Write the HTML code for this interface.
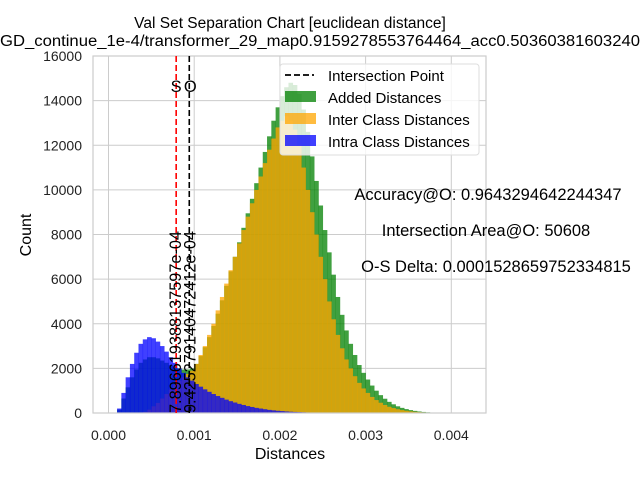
<!DOCTYPE html>
<html><head><meta charset="utf-8"><style>body{margin:0;background:#fff}svg{display:block}text{font-family:"Liberation Sans","DejaVu Sans",sans-serif}</style></head>
<body>
<svg id="chart" width="640" height="480" xmlns="http://www.w3.org/2000/svg"></svg>
<script>
const binStart = 0.0001;
const binWidth = 0.00005;
const interVals = [0,0,0,0,0,0,50,150,300,450,650,850,1050,1250,1450,1600,1750,1900,2200,2600,3000,3500,4000,4600,5200,5800,6400,7000,7600,8200,8800,9400,10000,10600,11200,11800,12300,12800,13100,13300,13100,12700,12000,11000,10000,9000,8000,7000,6000,5000,4200,3500,2900,2400,2000,1650,1350,1100,900,720,580,460,360,280,220,170,130,100,75,55,40,28,18,10,5,0];
const intraVals = [200,900,1600,2200,2700,3100,3300,3400,3350,3200,3000,2750,2500,2250,2000,1800,1600,1450,1300,1180,1060,950,850,760,680,600,530,470,410,360,310,270,230,200,170,140,120,100,85,70,58,48,40,32,25,20,15,10,6,0];
const addedVals = [150,650,1150,1600,1950,2250,2400,2500,2500,2450,2350,2250,2150,2050,2000,1950,1950,2000,2200,2550,2950,3400,3900,4450,5050,5700,6350,7000,7650,8300,8950,9600,10300,11000,11700,12400,13100,13700,14200,14600,14800,14700,14300,13600,12600,11500,10400,9300,8200,7200,6200,5200,4400,3700,3100,2600,2150,1800,1500,1230,1000,800,640,500,390,300,230,175,130,95,68,48,32,20,10,4,0];
const xTicks = [0, 0.001, 0.002, 0.003, 0.004];
const xTickLabels = ["0.000","0.001","0.002","0.003","0.004"];
const yTicks = [0,2000,4000,6000,8000,10000,12000,14000,16000];
const sPoint = 7.896619388137597e-04;
const oPoint = 9.425279140472412e-04;

const NS = "http://www.w3.org/2000/svg";
const svg = document.getElementById('chart');
const L = 93, R = 486, T = 56, B = 413;
const X = v => 108.5 + v * 85700;
const Y = v => B - (v / 16000) * (B - T);
function el(tag, attrs, parent) {
  const e = document.createElementNS(NS, tag);
  for (const k in attrs) e.setAttribute(k, attrs[k]);
  (parent || svg).appendChild(e);
  return e;
}
function txt(s, attrs, parent) { const t = el('text', attrs, parent); t.textContent = s; return t; }

const grid = el('g', {});


xTicks.forEach(v => el('line', {x1:X(v), x2:X(v), y1:T, y2:B, stroke:'#cccccc', 'stroke-width':1}, grid));
yTicks.forEach(v => el('line', {x1:L, x2:R, y1:Y(v), y2:Y(v), stroke:'#cccccc', 'stroke-width':1}, grid));

function drawHist(vals, color, name) {
  const g = el('g', {fill: color, 'fill-opacity': 0.75});
  
  
  vals.forEach((v, i) => {
    if (v <= 0) return;
    const x0 = X(binStart + i * binWidth), x1 = X(binStart + (i + 1) * binWidth);
    const r = el('rect', {x: x0, y: Y(v), width: x1 - x0 + 0.3, height: B - Y(v)}, g);
    
    
  });
}
drawHist(addedVals, '#008000', 'added-distances-hist');
drawHist(interVals, '#ffa500', 'inter-class-hist');
drawHist(intraVals, '#0000ff', 'intra-class-hist');

const frame = el('rect', {x:L, y:T, width:R-L, height:B-T, fill:'none', stroke:'#cccccc', 'stroke-width':1.2});



const sl = el('line', {x1:X(sPoint), x2:X(sPoint), y1:T, y2:B, stroke:'#ff0000', 'stroke-width':1.6, 'stroke-dasharray':'6,3'});


const ol = el('line', {x1:X(oPoint), x2:X(oPoint), y1:T, y2:B, stroke:'#000', 'stroke-width':1.6, 'stroke-dasharray':'6,3'});


let t;
t = txt('S', {x:X(sPoint), y:92, 'font-size':16.5, 'text-anchor':'middle'});  
t = txt('O', {x:X(oPoint)+1, y:92, 'font-size':16.5, 'text-anchor':'middle'});  
t = txt('7.896619388137597e-04', {x:0, y:0, 'font-size':16.3, transform:`translate(${X(sPoint)+5},${B}) rotate(-90)`});
 
t = txt('9.425279140472412e-04', {x:0, y:0, 'font-size':16.3, transform:`translate(${X(oPoint)+6},${B}) rotate(-90)`});
 

xTicks.forEach((v, i) => { const a = txt(xTickLabels[i], {x:X(v), y:440, 'font-size':14, 'text-anchor':'middle', fill:'#222'});   });
yTicks.forEach(v => { const a = txt(String(v), {x:82, y:Y(v)+5, 'font-size':14, 'text-anchor':'end', fill:'#222'});   });

t = txt('Distances', {x:290, y:459, 'font-size':16, 'text-anchor':'middle'});  
t = txt('Count', {x:0, y:0, 'font-size':16, 'text-anchor':'middle', transform:'translate(31,235) rotate(-90)'});  

t = txt('Val Set Separation Chart [euclidean distance]', {x:290, y:28, 'font-size':15.5, 'text-anchor':'middle'});  
t = txt('GD_continue_1e-4/transformer_29_map0.9159278553764464_acc0.50360381603240', {x:0, y:46, 'font-size':15.5, textLength:640, lengthAdjust:'spacingAndGlyphs'});  

t = txt('Accuracy@O: 0.9643294642244347', {x:488, y:200, 'font-size':16.5, 'text-anchor':'middle'});  
t = txt('Intersection Area@O: 50608', {x:486, y:236, 'font-size':16.5, 'text-anchor':'middle'});  
t = txt('O-S Delta: 0.0001528659752334815', {x:496, y:272, 'font-size':16.5, 'text-anchor':'middle'});  

const lg = el('g', {});


el('rect', {x:280, y:64, width:199, height:91, rx:3, fill:'#fff', 'fill-opacity':0.8, stroke:'#dddddd'}, lg);
el('line', {x1:285, x2:314, y1:75, y2:75, stroke:'#000', 'stroke-width':1.8, 'stroke-dasharray':'6,3'}, lg);
el('rect', {x:285, y:91, width:31, height:11, fill:'#008000', 'fill-opacity':0.75}, lg);
el('rect', {x:285, y:113, width:31, height:11, fill:'#ffa500', 'fill-opacity':0.75}, lg);
el('rect', {x:285, y:135, width:31, height:11, fill:'#0000ff', 'fill-opacity':0.75}, lg);
['Intersection Point','Added Distances','Inter Class Distances','Intra Class Distances'].forEach((s, i) => {
  const a = txt(s, {x:328, y:81 + i*22, 'font-size':15}, lg);
  
  
});
</script>
</body></html>
